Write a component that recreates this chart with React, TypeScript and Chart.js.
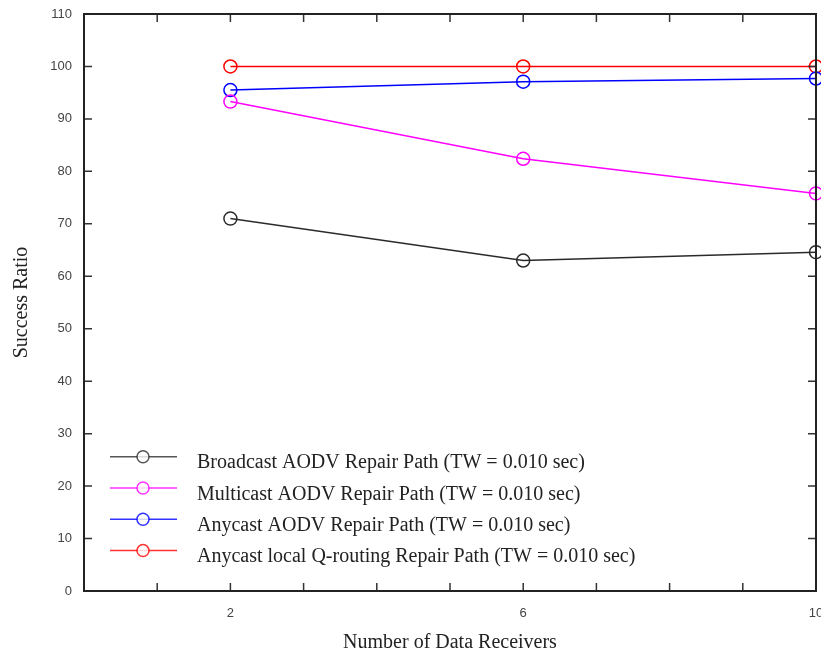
import React, { useEffect, useRef } from "react";
import { Chart, registerables } from "chart.js";

Chart.register(...registerables);

const xValues = [2, 6, 10];
const xTickLabels = [2, 6, 10];
const broadcast = [71.0, 63.0, 64.6];
const multicast = [93.3, 82.4, 75.8];
const anycast = [95.5, 97.1, 97.7];
const qrouting = [100, 100, 100];

const seriesNames = [
  "Broadcast AODV Repair Path (TW = 0.010 sec)",
  "Multicast AODV Repair Path (TW = 0.010 sec)",
  "Anycast AODV Repair Path (TW = 0.010 sec)",
  "Anycast local Q-routing Repair Path (TW = 0.010 sec)",
];
const seriesValues = [broadcast, multicast, anycast, qrouting];
const seriesColors = ["#2a2a2a", "#ff00ff", "#0000ff", "#ff0000"];

const SERIF = "'Liberation Serif', 'Times New Roman', serif";
const SANS = "'Liberation Sans', Arial, sans-serif";

const framePlugin = {
  id: "frameTicks",
  afterDatasetsDraw(chart: any) {
    const { ctx, chartArea } = chart;
    const { left, right, top, bottom } = chartArea;
    const xs = chart.scales.x;
    const ys = chart.scales.y;
    ctx.save();
    ctx.strokeStyle = "#333";
    ctx.lineWidth = 1.5;
    const tl = 8;
    xs.ticks.forEach((t: any) => {
      const px = xs.getPixelForValue(t.value);
      if (Math.abs(px - left) < 1 || Math.abs(px - right) < 1) return;
      ctx.beginPath();
      ctx.moveTo(px, bottom);
      ctx.lineTo(px, bottom - tl);
      ctx.moveTo(px, top);
      ctx.lineTo(px, top + tl);
      ctx.stroke();
    });
    ys.ticks.forEach((t: any) => {
      const py = ys.getPixelForValue(t.value);
      if (Math.abs(py - top) < 1 || Math.abs(py - bottom) < 1) return;
      ctx.beginPath();
      ctx.moveTo(left, py);
      ctx.lineTo(left + tl, py);
      ctx.moveTo(right, py);
      ctx.lineTo(right - tl, py);
      ctx.stroke();
    });
    ctx.strokeStyle = "#222";
    ctx.lineWidth = 2;
    ctx.strokeRect(left, top, right - left, bottom - top);

    // legend inside plot
    const rowStart = bottom - 134.3;
    const rowGap = 31.3;
    chart.data.datasets.forEach((ds: any, i: number) => {
      const y = rowStart + i * rowGap;
      ctx.strokeStyle = ds.borderColor;
      ctx.globalAlpha = 0.8;
      ctx.lineWidth = 1.5;
      ctx.beginPath();
      ctx.moveTo(left + 26, y);
      ctx.lineTo(left + 93, y);
      ctx.stroke();
      ctx.beginPath();
      ctx.fillStyle = "#fff";
      ctx.arc(left + 59, y, 6, 0, Math.PI * 2);
      ctx.fill();
      ctx.stroke();
      ctx.globalAlpha = 1;
      ctx.fillStyle = "#222";
      ctx.font = `20px ${SERIF}`;
      ctx.textBaseline = "alphabetic";
      ctx.textAlign = "left";
      ctx.fillText(ds.label, left + 113, y + 11.5);
    });
    ctx.restore();
  },
};

export default function App() {
  const ref = useRef<HTMLCanvasElement | null>(null);
  useEffect(() => {
    if (!ref.current) return;
    const chart = new Chart(ref.current, {
      type: "line",
      data: {
        datasets: seriesNames.map((name, i) => ({
          label: name,
          data: xValues.map((x, j) => ({ x, y: seriesValues[i][j] })),
          borderColor: seriesColors[i],
          backgroundColor: "rgba(255,255,255,0)",
          borderWidth: 1.5,
          pointRadius: 6.5,
          pointBorderWidth: 1.5,
          pointBorderColor: seriesColors[i],
          pointBackgroundColor: "rgba(255,255,255,0)",
          tension: 0,
          fill: false,
          clip: false as any,
        })),
      },
      options: {
        responsive: false,
        animation: false,
        devicePixelRatio: 1,
        layout: { padding: { left: 0, top: 14, right: 0, bottom: 0 } },
        plugins: {
          legend: { display: false },
          tooltip: { enabled: false },
        },
        scales: {
          x: {
            type: "linear",
            min: 0,
            max: 10,
            grid: { display: false, drawTicks: false },
            border: { display: false },
            ticks: {
              stepSize: 1,
              autoSkip: false,
              maxRotation: 0,
              padding: 15,
              color: "#444",
              font: { family: SANS, size: 13 },
              callback: (v: any) => (xTickLabels.includes(Number(v)) ? String(v) : ""),
            },
            title: {
              display: true,
              text: "Number of Data Receivers",
              color: "#222",
              font: { family: SERIF, size: 20 },
              padding: { top: 0, bottom: -3 },
            },
            afterFit: (s: any) => {
              s.height = 61;
              s.paddingLeft = 0;
              s.paddingRight = 0;
            },
          },
          y: {
            type: "linear",
            min: 0,
            max: 110,
            grid: { display: false, drawTicks: false },
            border: { display: false },
            ticks: {
              stepSize: 10,
              padding: 12,
              color: "#444",
              font: { family: SANS, size: 13 },
            },
            title: {
              display: true,
              text: "Success Ratio",
              color: "#222",
              font: { family: SERIF, size: 20 },
              padding: { top: 10, bottom: 0 },
            },
            afterFit: (s: any) => {
              s.width = 84;
              s.paddingTop = 0;
              s.paddingBottom = 0;
            },
          },
        },
      },
      plugins: [framePlugin],
    });
    return () => chart.destroy();
  }, []);
  return (
    <div style={{ position: "absolute", left: 0, top: 0, width: 821, height: 652, overflow: "hidden", background: "#fff" }}>
      <canvas ref={ref} width={824} height={652} style={{ display: "block" }} />
    </div>
  );
}
